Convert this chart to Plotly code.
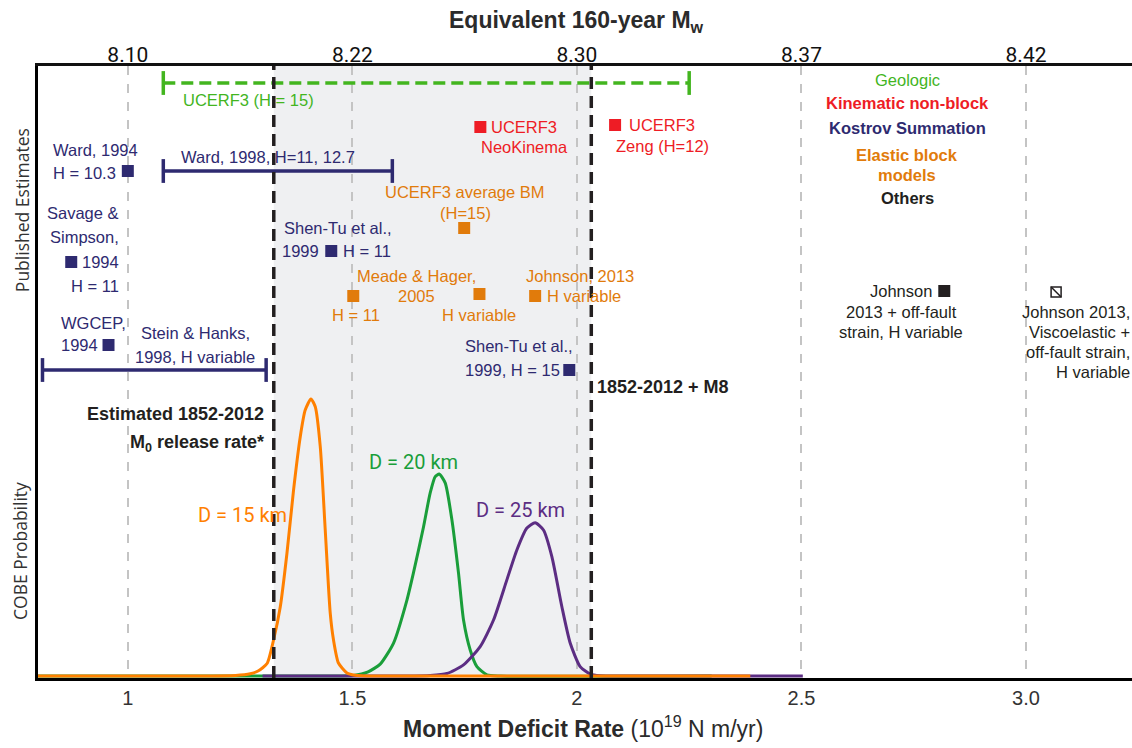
import plotly.graph_objects as go

# ---------------- data ----------------
# COBE probability curves (x: moment deficit rate, y: relative probability)
d15_x = [0.80, 1.15, 1.24, 1.2727, 1.290, 1.310, 1.3245, 1.3395, 1.3544, 1.369, 1.384, 1.395, 1.4078,
         1.4174, 1.4285, 1.4396, 1.4507, 1.458, 1.469, 1.488, 1.506, 1.55, 2.386]
d15_y = [0.0, 0.0, 0.002, 0.008, 0.018, 0.045, 0.13, 0.25, 0.444, 0.671, 0.864, 0.96, 1.0,
         0.972, 0.828, 0.527, 0.227, 0.13, 0.047, 0.011, 0.003, 0.0, 0.0]
d20_x = [0.80, 1.45, 1.502, 1.535, 1.562, 1.5917, 1.6215, 1.636, 1.6584, 1.6733, 1.6845, 1.6934,
         1.7067, 1.7217, 1.7363, 1.7475, 1.7624, 1.7773, 1.7996, 1.83, 2.30]
d20_y = [0.0, 0.0, 0.002, 0.015, 0.043, 0.119, 0.274, 0.372, 0.538, 0.661, 0.72, 0.729,
         0.697, 0.563, 0.372, 0.202, 0.094, 0.034, 0.004, 0.0, 0.0]
d25_x = [1.30, 1.62, 1.6733, 1.7105, 1.7475, 1.7846, 1.8143, 1.844, 1.8663, 1.8886, 1.907, 1.9255,
         1.9442, 1.9665, 1.985, 2.0072, 2.0295, 2.0518, 2.10, 2.503]
d25_y = [0.0, 0.0, 0.002, 0.009, 0.040, 0.106, 0.202, 0.347, 0.455, 0.534, 0.553, 0.527,
         0.431, 0.25, 0.119, 0.034, 0.007, 0.001, 0.0, 0.0]

# Published estimates (x = moment deficit rate; row = vertical slot in the upper panel)
kostrov_x = [1.0, 0.874, 0.957, 1.453, 1.983]
kostrov_row = [105, 196, 279, 185, 304]
kinematic_x = [1.785, 2.085]
kinematic_row = [61, 59]
elastic_x = [1.749, 1.502, 1.783, 1.907]
elastic_row = [162, 230, 228, 230]
others_x = [2.818]
others_row = [225]
visco_x = [3.067]
visco_row = [226]

ward1998_range = [1.079, 1.589]
ward1998_row = 105
stein_hanks_range = [0.81, 1.308]
stein_hanks_row = 304
ucerf3_geo_range = [1.079, 2.25]
ucerf3_geo_row = 17

release_rate = 1.325        # Estimated 1852-2012 M0 release rate
release_rate_m8 = 2.032     # 1852-2012 + M8

tick_vals = [1, 1.5, 2, 2.5, 3]
tick_text_bottom = ["1", "1.5", "2", "2.5", "3.0"]
tick_text_top = ["8.10", "8.22", "8.30", "8.37", "8.42"]

# ---------------- styles ----------------
NAVY = "#2e2a70"
RED = "#ee1c25"
ORANGE = "#e17b0b"
GREEN = "#43b51f"
DARK = "#231f20"
C15 = "#ff8000"
C20 = "#1a9e3a"
C25 = "#5c2d83"
SANS = "Liberation Sans, Arial, sans-serif"
ROBO = "Roboto, sans-serif"

X0, X1 = 0.8, 3.236


def px2x(px):
    return 1 + (px - 127.5) / 449.25


fig = go.Figure()

# probability curves
for xs, ys, c in [(d20_x, d20_y, C20), (d25_x, d25_y, C25), (d15_x, d15_y, C15)]:
    fig.add_trace(go.Scatter(x=xs, y=ys, mode="lines", line=dict(color=c, width=3, shape="spline", smoothing=0.6),
                             hoverinfo="skip", showlegend=False))


def add_range(rng, row, color, dash=None):
    fig.add_trace(go.Scatter(x=rng, y=[row, row], yaxis="y2", mode="lines+markers",
                             line=dict(color=color, width=3.5, dash=dash),
                             marker=dict(symbol="line-ns", size=17, line=dict(color=color, width=3.5)),
                             hoverinfo="skip", showlegend=False))


add_range(ucerf3_geo_range, ucerf3_geo_row, GREEN, dash="12px,6px")
add_range(ward1998_range, ward1998_row, NAVY)
add_range(stein_hanks_range, stein_hanks_row, NAVY)

for xs, rows, c in [(kostrov_x, kostrov_row, NAVY), (kinematic_x, kinematic_row, RED),
                    (elastic_x, elastic_row, ORANGE), (others_x, others_row, DARK)]:
    fig.add_trace(go.Scatter(x=xs, y=rows, yaxis="y2", mode="markers",
                             marker=dict(symbol="square", size=12, color=c),
                             hoverinfo="skip", showlegend=False))
fig.add_trace(go.Scatter(x=visco_x, y=visco_row, yaxis="y2", mode="markers",
                         marker=dict(symbol="square-open", size=10, color=DARK, line=dict(width=1.5, color=DARK)),
                         hoverinfo="skip", showlegend=False))
fig.add_trace(go.Scatter(x=visco_x, y=visco_row, yaxis="y2", mode="markers",
                         marker=dict(symbol="line-nw", size=10, line=dict(width=1.5, color=DARK)),
                         hoverinfo="skip", showlegend=False))

# top axis carrier trace
fig.add_trace(go.Scatter(x=[X0, X1], y=[None, None], xaxis="x2", mode="lines", showlegend=False, hoverinfo="skip"))

fig.add_vrect(x0=release_rate, x1=release_rate_m8, fillcolor="#eff0f2", line_width=0, layer="below")
for xv in [release_rate, release_rate_m8]:
    fig.add_vline(x=xv, line=dict(color=DARK, width=3.5, dash="12px,7px"))

annotations = []


def lab(lines, px, rows, color, anchor="center", size=16.5, family=SANS, bold=False):
    if isinstance(lines, str):
        lines = [lines]
        rows = [rows]
    for t, r in zip(lines, rows):
        if bold:
            t = "<b>" + t + "</b>"
        annotations.append(dict(text=t, x=px2x(px), y=r, xref="x", yref="y2", xanchor=anchor,
                                yanchor="middle", showarrow=False,
                                font=dict(family=family, size=size, color=color)))


# Kostrov labels
lab(["Ward, 1994", "H = 10.3"], 51, [84, 107], NAVY, "left")
lab("Ward, 1998, H=11, 12.7", 268, 91, NAVY)
lab(["Savage &", "Simpson,", "1994", "H = 11"], 121, [147, 171, 196, 220], NAVY, "right")
lab(["WGCEP,", "1994"], 59, [257, 279], NAVY, "left")
lab(["Stein & Hanks,", "1998, H variable"], 195, [267, 291], NAVY)
lab("Shen-Tu et al.,", 282, 162, NAVY, "left")
lab("1999", 321, 185, NAVY, "right")
lab("H = 11", 341, 185, NAVY, "left")
lab(["Shen-Tu et al.,", "1999, H = 15"], 463, [280, 304], NAVY, "left")
# Geologic
lab("UCERF3 (H = 15)", 181, 34, GREEN, "left")
# Kinematic
lab(["UCERF3", "NeoKinema"], 524, [61, 81], RED)
lab(["UCERF3", "Zeng (H=12)"], 662, [59, 80], RED)
# Elastic
lab(["UCERF3 average BM", "(H=15)"], 465, [126, 147], ORANGE)
lab(["Meade & Hager,", "2005"], 416, [210, 230], ORANGE)
lab("H variable", 479, 249, ORANGE)
lab("H = 11", 356, 249, ORANGE)
lab("Johnson, 2013", 580, 210, ORANGE)
lab("H variable", 545, 230, ORANGE, "left")
# Others
lab(["Johnson", "2013 + off-fault", "strain, H variable"], 901, [225, 246, 266], DARK)
lab(["Johnson 2013,", "Viscoelastic +", "off-fault strain,", "H variable"], 1132, [246, 266, 286, 306],
    DARK, "right")
# category key
lab("Geologic", 907, 14, GREEN)
lab("Kinematic non-block", 907, 37, RED, bold=True)
lab("Kostrov Summation", 907, 62, NAVY, bold=True)
lab(["Elastic block", "models"], 907, [89, 109], ORANGE, bold=True)
lab("Others", 907, 132, DARK, bold=True)
# moment release labels
lab(["Estimated 1852-2012", "M<sub>0</sub> release rate*"], 266, [348, 377], DARK, "right", size=18, bold=True)
lab("1852-2012 + M8", 595, 321, DARK, "left", size=18, bold=True)
# curve labels
lab("D = 15 km", 242, 449, C15, size=20, family=ROBO)
lab("D = 20 km", 413, 396, C20, size=20, family=ROBO)
lab("D = 25 km", 520, 444, C25, size=20, family=ROBO)

# axis titles
annotations.append(dict(text="Published Estimates", x=-0.0145, y=(678 - 210) / 612, xref="paper", yref="paper",
                        textangle=-90, showarrow=False, xanchor="center", yanchor="middle",
                        font=dict(family="Open Sans, sans-serif", size=17.5, color="#333")))
annotations.append(dict(text="COBE Probability", x=-0.0165, y=(678 - 551) / 612, xref="paper", yref="paper",
                        textangle=-90, showarrow=False, xanchor="center", yanchor="middle",
                        font=dict(family="Open Sans, sans-serif", size=17.5, color="#333")))
annotations.append(dict(text="<b>Equivalent 160-year M<sub>w</sub></b>", x=(576 - 38) / 1094, y=(678 - 21) / 612,
                        xref="paper", yref="paper", showarrow=False, xanchor="center", yanchor="middle",
                        font=dict(family=SANS, size=23, color="#2b2b2b")))
annotations.append(dict(text="<b>Moment Deficit Rate</b> (10<sup>19</sup> N m/yr)", x=(583 - 38) / 1094,
                        y=(678 - 727) / 612, xref="paper", yref="paper", showarrow=False, xanchor="center",
                        yanchor="middle", font=dict(family=SANS, size=23, color="#2b2b2b")))

fig.update_layout(
    width=1132, height=748,
    margin=dict(l=38, r=0, t=66, b=70),
    plot_bgcolor="white", paper_bgcolor="white",
    showlegend=False,
    annotations=annotations,
    xaxis=dict(range=[X0, X1], tickvals=tick_vals, ticktext=tick_text_bottom, showgrid=True,
               gridcolor="#c4c4c4", gridwidth=1.5, griddash="dash", zeroline=False,
               showline=True, linecolor="black", linewidth=3, ticks="",
               tickfont=dict(family=SANS, size=20, color="#333")),
    xaxis2=dict(range=[X0, X1], overlaying="x", side="top", anchor="y", tickvals=tick_vals,
                ticktext=tick_text_top, showgrid=False, zeroline=False, showline=True,
                linecolor="#111", linewidth=2.5, ticks="", ticklabelstandoff=-7,
                tickfont=dict(family=ROBO, size=21, color="#111")),
    yaxis=dict(range=[-0.0072, 2.202], showgrid=False, zeroline=False, showticklabels=False,
               showline=True, linecolor="black", linewidth=3, ticks=""),
    yaxis2=dict(range=[612, 0], overlaying="y", visible=False),
)

fig.write_html("out.html")
